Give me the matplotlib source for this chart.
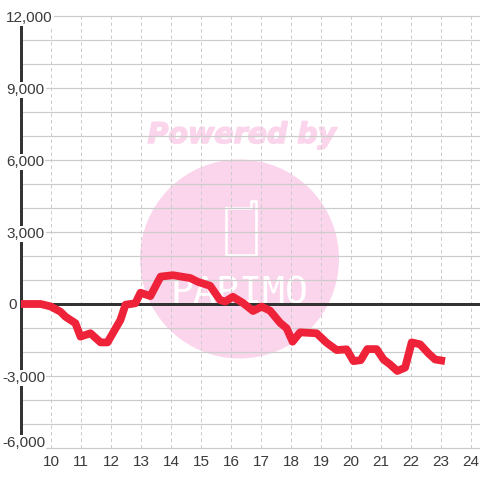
import matplotlib
matplotlib.use("Agg")
import matplotlib.pyplot as plt
import matplotlib.patheffects as pe
from matplotlib.patches import Circle

hours = [9, 9.33, 9.67, 10, 10.33, 10.5, 10.83, 11, 11.33, 11.67, 11.9, 12.33, 12.5, 12.83,
         13, 13.33, 13.67, 14.08, 14.66, 14.92, 15.32, 15.65, 15.82, 16.08, 16.42, 16.75,
         17.04, 17.32, 17.65, 17.87, 18.07, 18.32, 18.87, 19.2, 19.54, 19.87, 20.1, 20.34,
         20.56, 20.87, 21.1, 21.32, 21.56, 21.82, 22.04, 22.32, 22.6, 22.82, 23.15]
values = [0, 0, 0, -100, -320, -530, -800, -1360, -1220, -1600, -1600, -670, -30, 30,
          470, 330, 1140, 1200, 1080, 920, 760, 170, 100, 300, 40, -290,
          -110, -280, -780, -1010, -1570, -1180, -1220, -1610, -1920, -1890, -2380, -2340,
          -1880, -1880, -2310, -2520, -2790, -2650, -1600, -1680, -2060, -2310, -2380]

x_ticks = list(range(10, 25))
y_ticks = [12000, 9000, 6000, 3000, 0, -3000, -6000]
y_labels = ["12,000", "9,000", "6,000", "3,000", "0", "-3,000", "-6,000"]
y_label_left = [6, 6.5, 6, 6.5, 8, 2, 2]
y_label_shift = [2, 2, 2, 2, 1, 2, -5]

plt.rcParams["font.family"] = ["Liberation Sans", "DejaVu Sans"]
PX = 0.72  # one pixel in points at dpi 100
PINK = "#fbd5ec"
DARK = "#333333"
GRID = "#cccccc"

fig = plt.figure(figsize=(4.8, 4.8), dpi=100, facecolor="white")

# watermark sits behind the chart, drawn in pixel coordinates
bg = fig.add_axes([0, 0, 1, 1], zorder=0)
bg.set_xlim(0, 480)
bg.set_ylim(480, 0)
bg.axis("off")
bg.add_patch(Circle((239.5, 259), 99.5, color=PINK, lw=0))
powered = bg.text(242, 135, "Powered by", color=PINK, family="DejaVu Sans", weight="bold",
                  style="italic", fontsize=20.5, ha="center", va="center")
powered.set_path_effects([pe.withStroke(linewidth=1.5 * PX, foreground=PINK)])
bg.plot([226, 251, 251, 256, 256, 226, 226], [208, 208, 201, 201, 255, 255, 208],
        color="white", lw=2.6 * PX, solid_joinstyle="round")
bg.text(239.5, 293, "PAPIMO", color="white", family="DejaVu Sans Mono", fontsize=27.5,
        ha="center", va="center")

ax = fig.add_axes([20.5 / 480, 32 / 480, 459.5 / 480, 432 / 480], zorder=1)
ax.patch.set_alpha(0)
ax.set_xlim(9, 9 + 459.5 / 30)
ax.set_ylim(-6000, 12000)

for t in x_ticks:
    ax.axvline(t, color=GRID, lw=1 * PX, ls=(0, (3.5, 3)), zorder=1)
for v in range(-6000, 12001, 1000):
    ax.axhline(v, color=GRID, lw=1.2 * PX, zorder=1, clip_on=False)
ax.axhline(0, color=DARK, lw=3 * PX, zorder=2)

for side in ["top", "right", "bottom"]:
    ax.spines[side].set_visible(False)
ax.spines["left"].set_color(DARK)
ax.spines["left"].set_linewidth(3 * PX)
ax.spines["left"].set_bounds(-6000, 11700)
ax.spines["left"].set_zorder(3)

ax.plot(hours, values, color="#ee2238", lw=7.8 * PX, solid_joinstyle="round",
        solid_capstyle="butt", zorder=4)

ax.set_xticks([])
ax.set_yticks([])
for t in x_ticks:
    ax.annotate(str(t), (t, -6000), xytext=(0.5 * PX, -14 * PX), textcoords="offset points",
                ha="center", va="center", fontsize=11, color="#3a3a3a", annotation_clip=False)
for v, label, left, shift in zip(y_ticks, y_labels, y_label_left, y_label_shift):
    ax.annotate(label, (9, v), xytext=((left - 20.5) * PX, -shift * PX), textcoords="offset points",
                ha="left", va="center", fontsize=11, color="#3a3a3a", annotation_clip=False,
                zorder=6, bbox=dict(fc="white", ec="none", pad=0.8))

fig.savefig("out.png", dpi=100, facecolor="white")
